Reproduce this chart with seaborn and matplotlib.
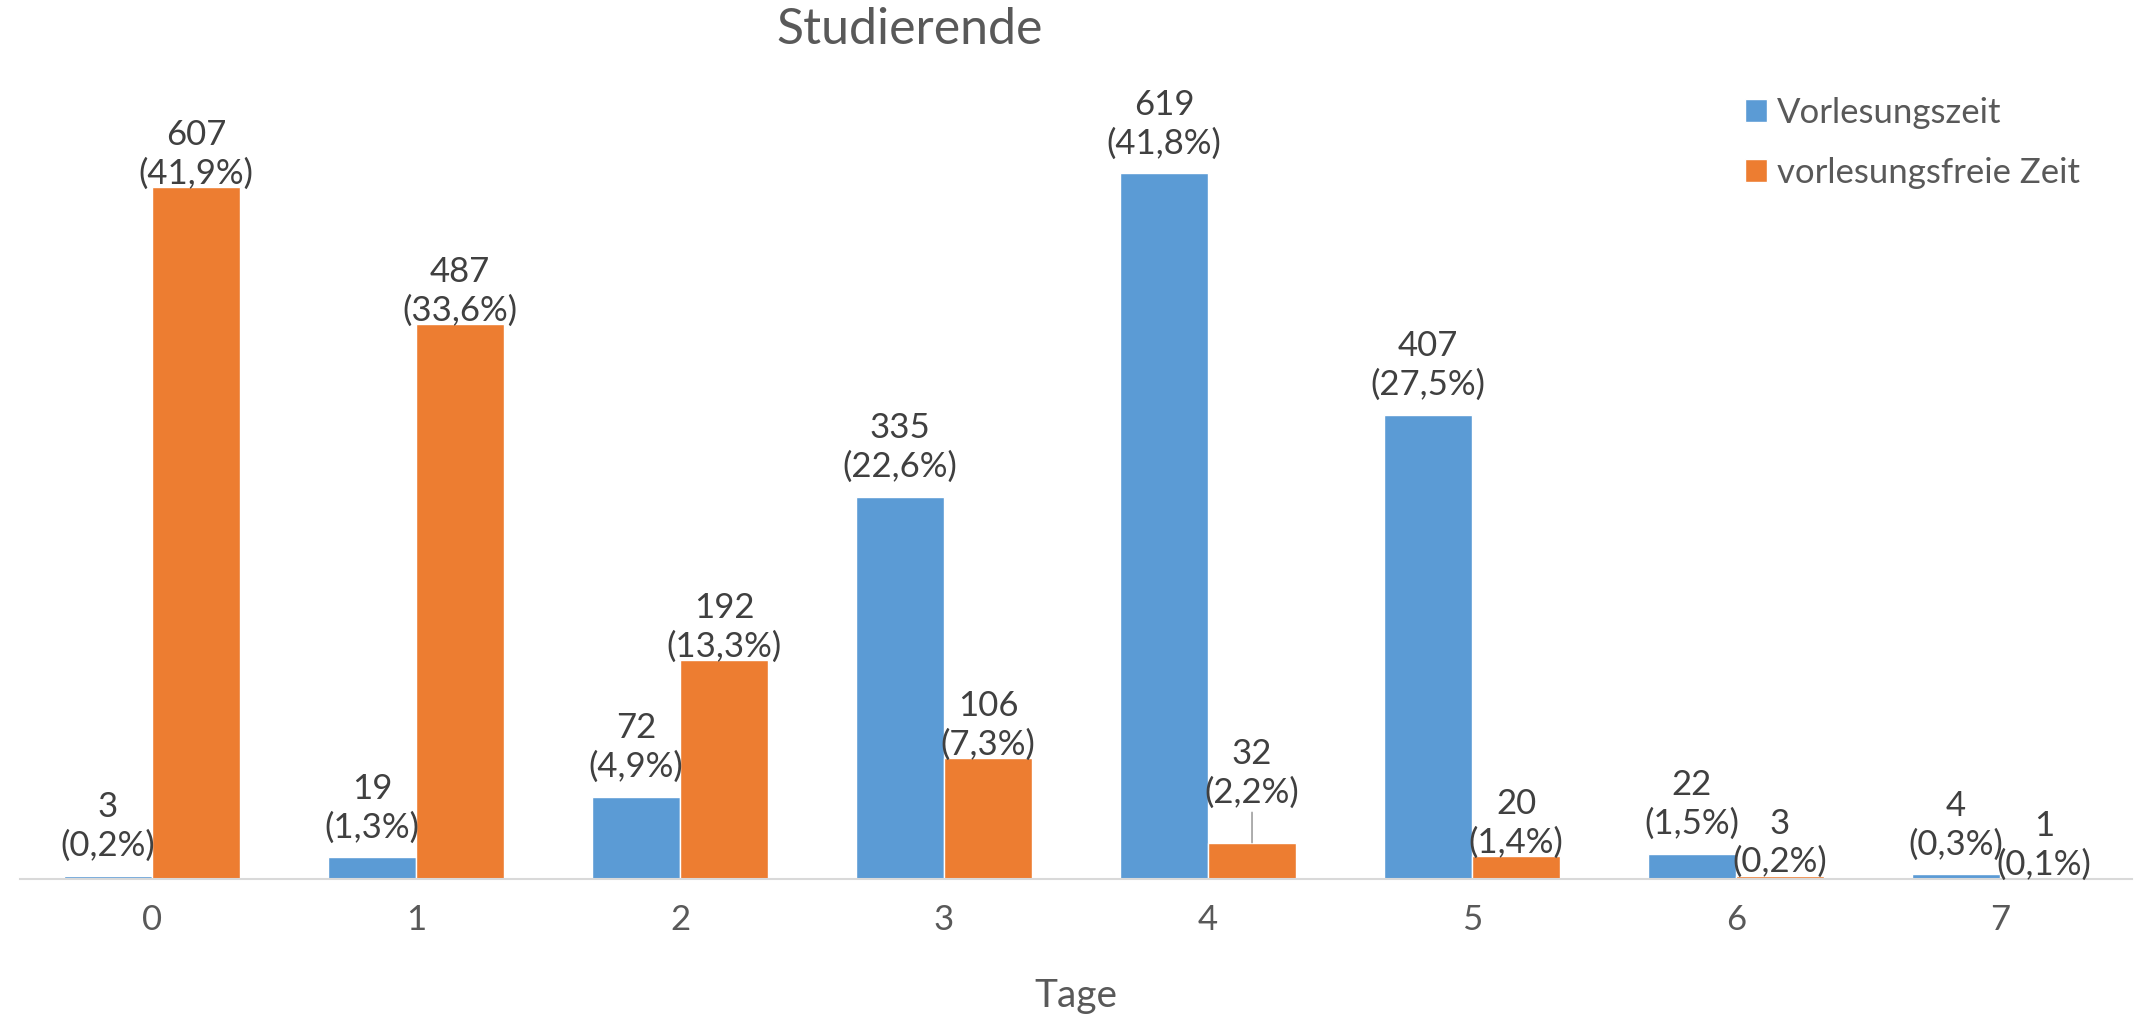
import pandas as pd
import matplotlib.pyplot as plt
import seaborn as sns

# ===============================
# DATA
# ===============================
tage = [0, 1, 2, 3, 4, 5, 6, 7]
vorlesungszeit = [3, 19, 72, 335, 619, 407, 22, 4]
vorlesungsfrei = [607, 487, 192, 106, 32, 20, 3, 1]
pct_vorlesungszeit = ["0,2%", "1,3%", "4,9%", "22,6%", "41,8%", "27,5%", "1,5%", "0,3%"]
pct_vorlesungsfrei = ["41,9%", "33,6%", "13,3%", "7,3%", "2,2%", "1,4%", "0,2%", "0,1%"]
serien = ["Vorlesungszeit", "vorlesungsfreie Zeit"]

df = pd.DataFrame({
    "tage": tage * 2,
    "anzahl": vorlesungszeit + vorlesungsfrei,
    "zeitraum": [serien[0]] * len(tage) + [serien[1]] * len(tage),
})

# ===============================
# STYLE
# ===============================
sns.set_style("white")
plt.rcParams["font.family"] = ["Lato", "DejaVu Sans"]
grau = "#595959"
label_grau = "#404040"
achse = "#D9D9D9"

fig = plt.figure(figsize=(21.36, 10.19), dpi=100)
ax = fig.add_axes([20 / 2136, 140 / 1019, 2112 / 2136, 798 / 1019])

sns.barplot(data=df, x="tage", y="anzahl", hue="zeitraum", hue_order=serien,
            palette=["#5B9BD5", "#ED7D31"], width=0.667, gap=0, saturation=1,
            edgecolor="white", linewidth=1, errorbar=None, ax=ax)

# ===============================
# DATA LABELS
# ===============================
for cont, werte, pcts, pad in zip(ax.containers,
                                  [vorlesungszeit, vorlesungsfrei],
                                  [pct_vorlesungszeit, pct_vorlesungsfrei],
                                  [10, -2]):
    labels = [f"{w}\n({p})" for w, p in zip(werte, pcts)]
    if werte is vorlesungsfrei:
        # label for day 4 sits higher with a leader line
        bar = cont[4]
        ax.annotate(labels[4], xy=(bar.get_x() + bar.get_width() / 2, bar.get_height()),
                    xytext=(0, 24), textcoords="offset points", ha="center", va="bottom",
                    fontsize=25, color=label_grau, linespacing=1.25,
                    arrowprops=dict(arrowstyle="-", color="#A6A6A6", lw=1.3,
                                    shrinkA=0, shrinkB=0))
        labels[4] = ""
    ax.bar_label(cont, labels=labels, padding=pad, fontsize=25, color=label_grau,
                 linespacing=1.25)

# ===============================
# AXES
# ===============================
ax.set_ylim(0, 700)
ax.set_xlim(-0.5, 7.5)
ax.set_yticks([])
ax.set_ylabel("")
for s in ["left", "right", "top"]:
    ax.spines[s].set_visible(False)
ax.spines["bottom"].set_color(achse)
ax.spines["bottom"].set_linewidth(1.5)

ax.set_xticks([i - 0.5 for i in range(len(tage) + 1)], minor=True)
ax.tick_params(axis="x", which="minor", length=10, width=1.2, color=achse, direction="out")
ax.tick_params(axis="x", which="major", length=0, pad=18, labelsize=25, labelcolor=grau)

ax.set_xlabel("Tage", fontsize=28, color=grau)
ax.xaxis.set_label_coords(0.5, -0.1466)
ax.xaxis.label.set_va("center")

fig.suptitle("Studierende", x=910 / 2136, y=1 - 30 / 1019, va="center",
             fontsize=36, color=grau)

handles, labels = ax.get_legend_handles_labels()
ax.get_legend().remove()
fig.legend(handles, labels, loc="upper left", bbox_to_anchor=(1745 / 2136, 0.905),
           frameon=False, fontsize=25, labelcolor=grau, handlelength=0.63,
           handleheight=0.63, handletextpad=0.3, labelspacing=0.8,
           borderpad=0, borderaxespad=0)

plt.savefig("out.png", dpi=100)
